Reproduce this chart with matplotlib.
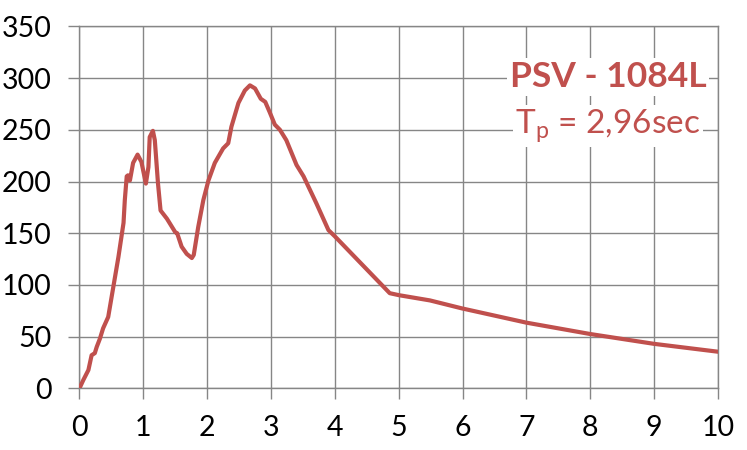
import matplotlib.pyplot as plt

# period (sec) and PSV values
period = [0.0, 0.06, 0.14, 0.19, 0.24, 0.27, 0.32, 0.37, 0.45, 0.53, 0.61, 0.69,
          0.71, 0.74, 0.76, 0.79, 0.84, 0.91, 0.97, 1.04, 1.08, 1.10, 1.15, 1.18,
          1.23, 1.27, 1.37, 1.50, 1.53, 1.60, 1.68, 1.76, 1.79, 1.86, 1.94, 2.02,
          2.12, 2.25, 2.33, 2.38, 2.49, 2.59, 2.67, 2.75, 2.84, 2.91, 2.98, 3.06,
          3.14, 3.24, 3.40, 3.51, 3.71, 3.90, 4.00, 4.86, 5.01, 5.49, 5.99, 7.0,
          8.0, 9.0, 10.0]
psv = [0, 8, 17.7, 32, 34, 40, 48, 58, 69, 98, 127, 160,
       182, 205, 206, 201, 218, 226, 219, 198, 214, 243, 249, 240,
       198, 172, 164, 151, 150, 137, 130, 126, 129, 156, 182, 201,
       218, 232, 237, 253, 276, 288, 293, 290, 280, 277, 267, 255,
       250, 240, 216, 205, 179, 153, 147, 92, 90, 85, 77.3, 63.5,
       52.5, 43, 35.4]

xticks = list(range(0, 11))
yticks = list(range(0, 351, 50))

grey = '#868686'
red = '#C0504D'

plt.rcParams['font.family'] = ['Lato', 'DejaVu Sans']

fig = plt.figure(figsize=(7.47, 4.5), dpi=100)
ax = fig.add_axes([0.1064, 0.1371, 0.8546, 0.8042])

ax.plot(period, psv, color=red, linewidth=3.0, solid_joinstyle='round', zorder=3)

ax.set_xlim(0, 10)
ax.set_ylim(0, 350)
ax.set_xticks(xticks)
ax.set_yticks(yticks)
ax.grid(True, color=grey, linewidth=1.0)
ax.tick_params(length=8, width=1.0, color=grey, labelsize=20.5, labelcolor='black')
ax.tick_params(axis='x', pad=11)
ax.tick_params(axis='y', pad=12)
for s in ax.spines.values():
    s.set_color(grey)
    s.set_linewidth(1.0)

ax.text(0.828, 0.86, 'PSV - 1084L', transform=ax.transAxes, ha='center', va='center',
        fontsize=25.5, fontweight='bold', color=red, zorder=4,
        bbox=dict(facecolor='white', edgecolor='none', pad=2))
ax.text(0.828, 0.725, r'T$_\mathregular{p}$ = 2,96sec', transform=ax.transAxes,
        ha='center', va='center', fontsize=24, color=red, zorder=4,
        bbox=dict(facecolor='white', edgecolor='none', pad=2))

fig.savefig('out.png', dpi=100)
